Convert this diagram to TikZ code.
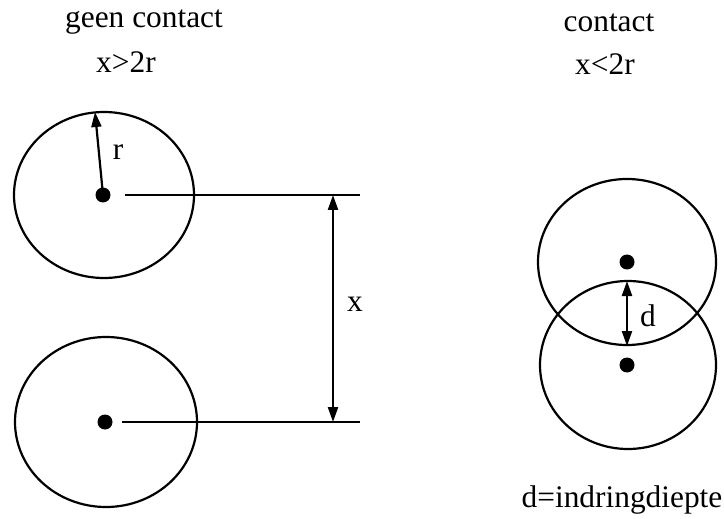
\documentclass[tikz,border=0pt]{standalone}
\usepackage{fontspec}
\setmainfont{Liberation Serif}
\usetikzlibrary{arrows.meta}
\begin{document}
\begin{tikzpicture}[x=1bp,y=-1bp,
  lbl/.style={font=\fontsize{31.5}{36}\selectfont, inner sep=0pt, anchor=base},
  ring/.style={line width=2.2bp},
  dotn/.style={circle, fill=black, inner sep=0pt, minimum size=15bp},
  tip/.style={Triangle[length=15bp,width=10bp]},
  meas/.style={line width=2.2bp, {Triangle[length=15bp,width=10bp]}-{Triangle[length=15bp,width=10bp]}},
  guide/.style={line width=2.2bp}]
\useasboundingbox (0,0) rectangle (724,519);
% titles
\node[lbl] (t1) at (144,28) {geen contact};
\node[lbl] (t2) at (126,73) {x>2r};
\node[lbl] (t3) at (609,32) {contact};
\node[lbl] (t4) at (605,75) {x<2r};
\node[lbl] (t5) at (622,507) {d=indringdiepte};
% left circles
\draw[ring] (104,195) ellipse [x radius=90, y radius=83];
\draw[ring] (106,422) ellipse [x radius=91, y radius=85];
\node[dotn] (c1) at (103,195) {};
\node[dotn] (c2) at (105,422) {};
\coordinate (rt) at (95,112);
\draw[line width=2.2bp,-{Triangle[length=15bp,width=10bp]}] (c1.center) -- (rt);
\node[lbl] (rl) at (118,160) {r};
% guide lines
\coordinate (g1a) at (125,195);
\coordinate (g1b) at (360,195);
\coordinate (g2a) at (122,422);
\coordinate (g2b) at (360,422);
\draw[guide] (g1a) -- (g1b);
\draw[guide] (g2a) -- (g2b);
\coordinate (xa) at (333,195);
\coordinate (xb) at (333,422);
\draw[meas] (xa) -- (xb);
\node[lbl] (xl) at (355,311) {x};
% right circles
\draw[ring] (627,262) ellipse [x radius=89, y radius=83];
\draw[ring] (628,365) ellipse [x radius=88, y radius=84];
\node[dotn] (c3) at (627,262) {};
\node[dotn] (c4) at (627,365) {};
\coordinate (da) at (627,281);
\coordinate (db) at (627,346);
\draw[meas] (da) -- (db);
\node[lbl] (dl) at (648,326) {d};
\end{tikzpicture}
\end{document}
